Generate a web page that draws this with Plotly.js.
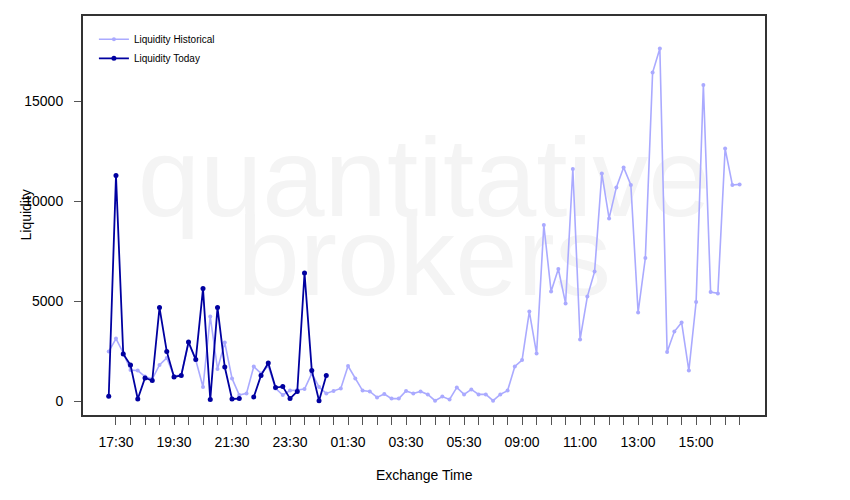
<!DOCTYPE html>
<html>
<head>
<meta charset="utf-8">
<script src="https://cdn.plot.ly/plotly-3.0.1.min.js"></script>
<style>
  html, body { margin: 0; padding: 0; background: #ffffff; }
  #chart { width: 850px; height: 500px; }
</style>
</head>
<body>
<div id="chart"></div>
<script>
// 15-minute bins, index 0 = 17:15
const histValues = [
  2470, 3120, 2400, 1550, 1520, 1220, 1100, 1800, 2150, 1250,
  1300, 2900, 2050, 700, 4220, 1600, 2920, 1130, 300, 380,
  1720, 1380, 1750, 630, 300, 520, 550, 600, 1380, 700,
  380, 500, 630, 1750, 1130, 520, 480, 180, 350, 120,
  120, 500, 380, 480, 330, 15, 220, 80, 680, 330,
  580, 330, 330, 15, 330, 520, 1730, 2050, 4470, 2370,
  8800, 5480, 6600, 4880, 11600, 3080, 5220, 6470, 11380, 9130,
  10680, 11680, 10800, 4430, 7150, 16420, 17620, 2450, 3470, 3930,
  1520, 4950, 15800, 5450, 5380, 12620, 10800, 10830
];
const todayValues = [
  235, 11270, 2350, 1800, 100, 1150, 1020, 4670, 2480, 1200,
  1280, 2950, 2070, 5620, 70, 4670, 1700, 100, 120, null,
  200, 1280, 1900, 670, 720, 120, 480, 6400, 1530, 15,
  1270
];
// one tick per 30 minutes (every second bin, starting at 17:30)
const tickLabels = [
  '17:30', '', '', '', '19:30', '', '', '', '21:30', '', '', '',
  '23:30', '', '', '', '01:30', '', '', '', '03:30', '', '', '',
  '05:30', '', '', '', '09:00', '', '', '', '11:00', '', '', '',
  '13:00', '', '', '', '15:00', '', '', ''
];
const yTicks = [0, 5000, 10000, 15000];
const seriesNames = ['Liquidity Historical', 'Liquidity Today'];
const watermark = ['quantitative', 'brokers'];

const histX = histValues.map((_, i) => i);
const todayX = todayValues.map((_, i) => i);
const tickVals = tickLabels.map((_, j) => 2 * j + 1);
const nBins = histValues.length;
const xPad = (nBins - 1) * 0.04;
const yMax = Math.max(...histValues, ...todayValues.filter(v => v !== null));

const font = 'Liberation Sans, Arial, Helvetica, sans-serif';

const traces = [
  {
    x: [(nBins - 1) / 2, (nBins - 1) / 2],
    y: [yMax * 0.604, yMax * 0.38],
    mode: 'text',
    text: watermark,
    textposition: 'middle center',
    textfont: { family: font, size: 112, color: '#f4f4f4' },
    showlegend: false,
    hoverinfo: 'skip'
  },
  {
    x: histX, y: histValues,
    name: seriesNames[0],
    mode: 'lines+markers',
    line: { color: '#aaaaff', width: 1.6 },
    marker: { color: '#aaaaff', size: 4 },
    connectgaps: false
  },
  {
    x: todayX, y: todayValues,
    name: seriesNames[1],
    mode: 'lines+markers',
    line: { color: '#0000a0', width: 1.8 },
    marker: { color: '#0000a0', size: 5 },
    connectgaps: false
  }
];

const layout = {
  width: 850, height: 500,
  margin: { l: 83, r: 85, t: 16, b: 85 },
  paper_bgcolor: '#ffffff',
  plot_bgcolor: '#ffffff',
  font: { family: font, size: 14, color: '#000000' },
  showlegend: true,
  legend: {
    x: 0.016, y: 0.978, xanchor: 'left', yanchor: 'top',
    bgcolor: 'rgba(0,0,0,0)',
    font: { family: font, size: 10, color: '#000000' },
    tracegroupgap: 0
  },
  xaxis: {
    range: [-xPad - 0.07, nBins - 1 + xPad + 0.02],
    tickmode: 'array',
    tickvals: tickVals,
    ticktext: tickLabels,
    ticks: 'outside', ticklen: 8, tickwidth: 1, tickcolor: '#555555',
    ticklabelstandoff: 5,
    showgrid: false, zeroline: false,
    showline: true, mirror: true, linecolor: '#333333', linewidth: 2,
    tickfont: { family: font, size: 14, color: '#000000' }
  },
  yaxis: {
    range: [-700, 19250],
    tickmode: 'array',
    tickvals: yTicks,
    ticktext: yTicks.map(String),
    ticks: 'outside', ticklen: 7, tickwidth: 1, tickcolor: '#555555',
    ticklabelstandoff: 8,
    showgrid: false, zeroline: false,
    showline: true, mirror: true, linecolor: '#333333', linewidth: 2,
    tickfont: { family: font, size: 14, color: '#000000' }
  },
  annotations: [
    {
      text: 'Exchange Time', xref: 'paper', yref: 'paper',
      x: 0.5, y: 0, xanchor: 'center', yanchor: 'middle',
      yshift: -60, showarrow: false,
      font: { family: font, size: 14, color: '#000000' }
    },
    {
      text: 'Liquidity', xref: 'paper', yref: 'paper',
      x: 0, y: 0.5, xanchor: 'center', yanchor: 'middle',
      xshift: -58, textangle: -90, showarrow: false,
      font: { family: font, size: 14, color: '#000000' }
    }
  ]
};

Plotly.newPlot('chart', traces, layout, { displayModeBar: false, staticPlot: true });
</script>
</body>
</html>
